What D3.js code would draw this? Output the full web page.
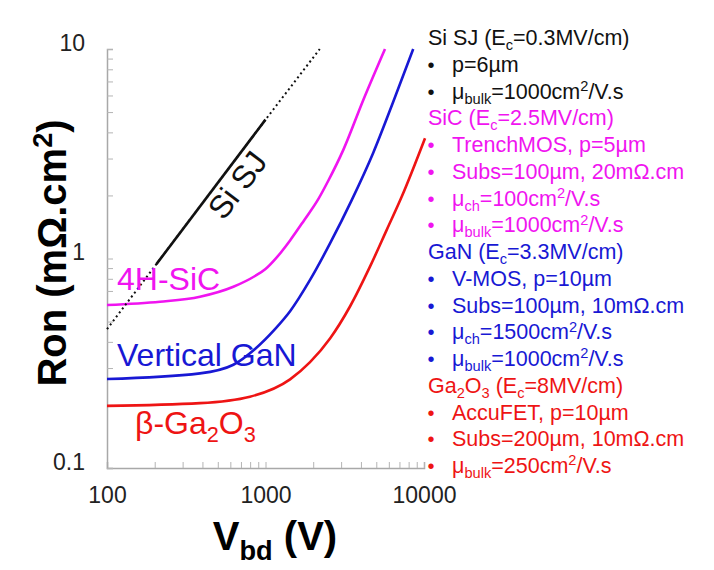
<!DOCTYPE html>
<html>
<head>
<meta charset="utf-8">
<script src="https://cdn.jsdelivr.net/npm/d3@7"></script>
<style>
  body { margin: 0; background: #fff; }
  text { font-family: Arial, "Liberation Sans", sans-serif; }
</style>
</head>
<body>
<div class="chart"></div>
<script>
// Ron vs breakdown voltage, log-log

var w = 714, h = 570;

// Si superjunction limit (dotted outside the solid segment)
var siVbd = [100, 205, 1000, 2200];
var siRon = [0.46, 0.94, 4.6, 10];

// 4H-SiC trench MOSFET
var sicVbd = [100, 216, 386, 627, 859, 1000, 1148, 1429, 1750, 2153, 2489, 3097, 4140, 5675];
var sicRon = [0.60, 0.622, 0.657, 0.733, 0.825, 0.89, 0.99, 1.22, 1.52, 1.92, 2.35, 3.30, 5.71, 10];

// vertical GaN
var ganVbd = [100, 386, 627, 859, 1148, 1429, 1910, 2553, 3499, 4786, 6397, 8550];
var ganRon = [0.266, 0.283, 0.311, 0.37, 0.46, 0.56, 0.79, 1.18, 1.90, 3.20, 5.6, 10];

// beta-Ga2O3
var gaoVbd = [100, 386, 798, 1429, 1910, 2553, 3412, 4562, 5820, 7230, 10150];
var gaoRon = [0.198, 0.204, 0.219, 0.265, 0.32, 0.415, 0.59, 0.914, 1.37, 1.97, 3.75];

var xMajor = [100, 1000, 10000];
var yMajor = [0.1, 1, 10];

var legendLines = [
  'Si SJ (E_{c}=0.3MV/cm)',
  'p=6µm',
  'μ_{bulk}=1000cm^{2}/V.s',
  'SiC (E_{c}=2.5MV/cm)',
  'TrenchMOS, p=5µm',
  'Subs=100µm, 20mΩ.cm',
  'μ_{ch}=100cm^{2}/V.s',
  'μ_{bulk}=1000cm^{2}/V.s',
  'GaN (E_{c}=3.3MV/cm)',
  'V-MOS, p=10µm',
  'Subs=100µm, 10mΩ.cm',
  'μ_{ch}=1500cm^{2}/V.s',
  'μ_{bulk}=1000cm^{2}/V.s',
  'Ga_{2}O_{3} (E_{c}=8MV/cm)',
  'AccuFET, p=10µm',
  'Subs=200µm, 10mΩ.cm',
  'μ_{bulk}=250cm^{2}/V.s'
];
var legendGroup = [0, 0, 0, 1, 1, 1, 1, 1, 2, 2, 2, 2, 2, 3, 3, 3, 3];
var legendBullet = [0, 1, 1, 0, 1, 1, 1, 1, 0, 1, 1, 1, 1, 0, 1, 1, 1];

var colors = ['#111111', '#f014f0', '#1818d4', '#ee1414'];

var x = d3.scaleLog().domain([100, 10000]).range([107, 424]);
var y = d3.scaleLog().domain([0.1, 10]).range([468, 49]);

var svg = d3.select('.chart').append('svg')
  .attr('width', w)
  .attr('height', h);

// text with _{sub} and ^{sup} pieces
function rich(sel, str, fs) {
  var parts = str.split(/(_\{[^}]*\}|\^\{[^}]*\})/).filter(function(p) { return p; });
  var shift = 0;
  parts.forEach(function(p) {
    var target = 0, size = fs, txt = p;
    if (p.indexOf('_{') === 0) { target = 0.24 * fs; size = 0.68 * fs; txt = p.slice(2, -1); }
    else if (p.indexOf('^{') === 0) { target = -0.36 * fs; size = 0.68 * fs; txt = p.slice(2, -1); }
    sel.append('tspan')
      .attr('dy', target - shift)
      .attr('font-size', size)
      .text(txt);
    shift = target;
  });
}

// minor + major ticks for each decade
function decadeTicks(lo, hi) {
  var t = [];
  for (var d = lo; d < hi; d *= 10)
    for (var k = 1; k < 10; k++) t.push(+(d * k).toPrecision(3));
  t.push(hi);
  return t;
}

var xAxis = d3.axisBottom(x)
  .tickValues(decadeTicks(100, 10000))
  .tickFormat(function(d) { return xMajor.indexOf(d) >= 0 ? d : ''; })
  .tickSize(-6)
  .tickPadding(19);

var yAxis = d3.axisLeft(y)
  .tickValues(decadeTicks(0.1, 10))
  .tickFormat(function(d) { return yMajor.indexOf(d) >= 0 ? d : ''; })
  .tickSize(-6)
  .tickPadding(22);

var gx = svg.append('g').attr('transform', 'translate(0,468)').call(xAxis);
var gy = svg.append('g').attr('transform', 'translate(107,0)').call(yAxis);

[gx, gy].forEach(function(g) {
  g.select('.domain').attr('stroke', '#a8a8a8').attr('stroke-width', 1.5);
  g.selectAll('.tick line').attr('stroke', '#b4b4b4').attr('stroke-width', 1);
  g.selectAll('.tick text')
    .attr('font-size', 23)
    .attr('fill', '#222')
    .style('font-family', 'Arial, "Liberation Sans", sans-serif');
});
gy.selectAll('.tick text').attr('dy', '0.06em');

var line = d3.line()
  .x(function(d) { return x(d[0]); })
  .y(function(d) { return y(d[1]); })
  .curve(d3.curveMonotoneX);

function pairs(vs, rs) {
  return vs.map(function(v, i) { return [v, rs[i]]; });
}

var curves = [
  { pts: pairs(sicVbd, sicRon), color: colors[1] },
  { pts: pairs(ganVbd, ganRon), color: colors[2] },
  { pts: pairs(gaoVbd, gaoRon), color: colors[3] }
];

svg.selectAll('path.curve')
  .data(curves)
  .enter().append('path')
    .attr('class', 'curve')
    .attr('d', function(d) { return line(d.pts); })
    .attr('fill', 'none')
    .attr('stroke', function(d) { return d.color; })
    .attr('stroke-width', 2.6);

// Si SJ: dotted full length, solid in the middle
var siPts = pairs(siVbd, siRon);
var siLine = d3.line()
  .x(function(d) { return x(d[0]); })
  .y(function(d) { return y(d[1]); });

svg.append('path')
  .attr('d', siLine(siPts))
  .attr('fill', 'none')
  .attr('stroke', '#111')
  .attr('stroke-width', 2)
  .attr('stroke-dasharray', '2,3');

svg.append('path')
  .attr('d', siLine(siPts.slice(1, 3)))
  .attr('fill', 'none')
  .attr('stroke', '#111')
  .attr('stroke-width', 2.6);

// Si SJ label along the line
var ang = Math.atan2(y(siRon[2]) - y(siRon[1]), x(siVbd[2]) - x(siVbd[1])) * 180 / Math.PI;
var labV = 546, labR = siRon[1] * Math.pow(labV / siVbd[1], Math.log(siRon[2] / siRon[1]) / Math.log(siVbd[2] / siVbd[1]));
svg.append('text')
  .attr('transform', 'translate(' + [x(labV), y(labR)] + ') rotate(' + ang + ')')
  .attr('y', 28)
  .attr('text-anchor', 'middle')
  .attr('font-size', 32)
  .attr('fill', '#111')
  .text('Si SJ');

// curve labels
var curveLabels = [
  { t: '4H-SiC', x: 117, y: 290, c: colors[1] },
  { t: 'Vertical GaN', x: 117, y: 366, c: colors[2] },
  { t: 'β-Ga_{2}O_{3}', x: 135, y: 434, c: colors[3] }
];
curveLabels.forEach(function(l) {
  var t = svg.append('text')
    .attr('x', l.x)
    .attr('y', l.y)
    .attr('fill', l.c)
    .attr('font-size', 32);
  rich(t, l.t, 32);
});

// axis titles
var xt = svg.append('text')
  .attr('x', 275)
  .attr('y', 550)
  .attr('text-anchor', 'middle')
  .attr('font-weight', 'bold')
  .attr('font-size', 40)
  .attr('fill', '#000');
rich(xt, 'V_{bd} (V)', 40);

var yt = svg.append('text')
  .attr('transform', 'translate(66,253) rotate(-90)')
  .attr('text-anchor', 'middle')
  .attr('font-weight', 'bold')
  .attr('font-size', 40)
  .attr('fill', '#000');
rich(yt, 'Ron (mΩ.cm^{2})', 40);

// legend block
var lg = svg.append('g');
legendLines.forEach(function(s, i) {
  var by = 45 + i * 26.75;
  var c = colors[legendGroup[i]];
  if (legendBullet[i]) {
    lg.append('text')
      .attr('x', 431)
      .attr('y', by)
      .attr('text-anchor', 'middle')
      .attr('font-size', 20)
      .attr('fill', c)
      .text('•');
  }
  var t = lg.append('text')
    .attr('x', legendBullet[i] ? 452 : 428)
    .attr('y', by)
    .attr('font-size', 21.5)
    .attr('fill', c);
  rich(t, s, 21.5);
});
</script>
</body>
</html>
